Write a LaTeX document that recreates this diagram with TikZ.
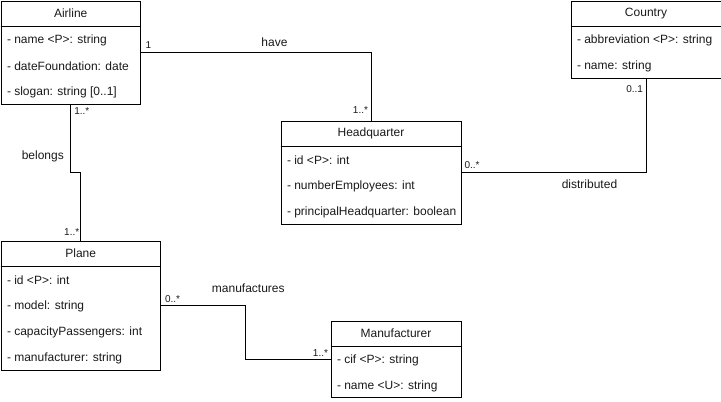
\documentclass[tikz,border=0pt]{standalone}
\usepackage{fontspec}
\setmainfont{Liberation Sans}
\usepackage{tikz}
\usetikzlibrary{calc}
\definecolor{UMLtext}{rgb}{0.1,0.1,0.1}

\begin{document}
\begin{tikzpicture}[x=1pt, y=-1pt, line width=1pt, text=UMLtext,
	classbox/.style={draw, rectangle, inner sep=0pt, anchor=north west},
	classtitle/.style={font=\fontsize{12}{14}\selectfont},
	attr/.style={anchor=west, inner sep=0pt, font=\fontsize{12}{14}\selectfont},
	mult/.style={inner sep=0pt, font=\fontsize{10}{12}\selectfont},
	assoc/.style={font=\fontsize{12}{14}\selectfont}]
	\useasboundingbox (0,0) rectangle (721,402);

	% classes
	\node[classbox, minimum width=139.5pt, minimum height=103.5pt] (airline) at (0.5,0.5) {};
	\node[classtitle] (airlinetitle) at ([yshift=-13pt]airline.north) {Airline};
	\draw ([yshift=-26pt]airline.north west) -- ([yshift=-26pt]airline.north east);
	\foreach \t [count=\i] in {{- name <P>: string}, {- dateFoundation: date}, {- slogan: string [0..1]}}
		\node[attr] (airlineattr\i) at ([xshift=6pt, yshift=-13.5pt-26pt*\i]airline.north west) {\t};

	\node[classbox, minimum width=180pt, minimum height=103.5pt] (hq) at (280.5,120.5) {};
	\node[classtitle] (hqtitle) at ([yshift=-13pt]hq.north) {Headquarter};
	\draw ([yshift=-26pt]hq.north west) -- ([yshift=-26pt]hq.north east);
	\foreach \t [count=\i] in {{- id <P>: int}, {- numberEmployees: int}, {- principalHeadquarter: boolean}}
		\node[attr] (hqattr\i) at ([xshift=6pt, yshift=-13.5pt-26pt*\i]hq.north west) {\t};

	\node[classbox, minimum width=150pt, minimum height=77.5pt] (country) at (570.5,0.5) {};
	\node[classtitle] (countrytitle) at ([yshift=-13pt]country.north) {Country};
	\draw ([yshift=-26pt]country.north west) -- ([yshift=-26pt]country.north east);
	\foreach \t [count=\i] in {{- abbreviation <P>: string}, {- name: string}}
		\node[attr] (countryattr\i) at ([xshift=6pt, yshift=-13.5pt-26pt*\i]country.north west) {\t};

	\node[classbox, minimum width=159.5pt, minimum height=129.5pt] (plane) at (0.5,240.5) {};
	\node[classtitle] (planetitle) at ([yshift=-13pt]plane.north) {Plane};
	\draw ([yshift=-26pt]plane.north west) -- ([yshift=-26pt]plane.north east);
	\foreach \t [count=\i] in {{- id <P>: int}, {- model: string}, {- capacityPassengers: int}, {- manufacturer: string}}
		\node[attr] (planeattr\i) at ([xshift=6pt, yshift=-13.5pt-26pt*\i]plane.north west) {\t};

	\node[classbox, minimum width=130pt, minimum height=76pt] (manufacturer) at (330.5,320.5) {};
	\node[classtitle] (manufacturertitle) at ([yshift=-13pt]manufacturer.north) {Manufacturer};
	\draw ([yshift=-26pt]manufacturer.north west) -- ([yshift=-26pt]manufacturer.north east);
	\foreach \t [count=\i] in {{- cif <P>: string}, {- name <U>: string}}
		\node[attr] (manufacturerattr\i) at ([xshift=6pt, yshift=-13.5pt-26pt*\i]manufacturer.north west) {\t};

	% associations
	\draw (airline.east) -| (hq.north);
	\node[assoc] (have) at (274.5,42.7) {have};
	\node[mult, anchor=base west] (havefrom) at ([xshift=4pt, yshift=3.8pt]airline.east) {1};
	\node[mult, anchor=base east] (haveto) at ([xshift=-2.5pt, yshift=7.5pt]hq.north) {1..*};

	\draw (airline.south) |- ($(airline.south)!.5!(plane.north)$) -| (plane.north);
	\node[assoc] (belongs) at (42.8,156) {belongs};
	\node[mult, anchor=base west] (belongsfrom) at ([xshift=3pt, yshift=-9.5pt]airline.south) {1..*};
	\node[mult, anchor=base east] (belongsto) at ([xshift=-1pt, yshift=5pt]plane.north) {1..*};

	\draw (hq.east) -| (country.south);
	\node[assoc] (distributed) at (589.5,184.7) {distributed};
	\node[mult, anchor=base west] (distributedfrom) at ([xshift=2.5pt, yshift=4pt]hq.east) {0..*};
	\node[mult, anchor=base east] (distributedto) at ([xshift=-2.5pt, yshift=-13pt]country.south) {0..1};

	\draw (plane.east) -| ($(plane.east)!.5!(manufacturer.west)$) |- (manufacturer.west);
	\node[assoc] (manufactures) at (248.3,288.7) {manufactures};
	\node[mult, anchor=base west] (manufacturesfrom) at ([xshift=3.5pt, yshift=3.5pt]plane.east) {0..*};
	\node[mult, anchor=base east] (manufacturesto) at ([xshift=-2pt, yshift=3pt]manufacturer.west) {1..*};
\end{tikzpicture}
\end{document}
